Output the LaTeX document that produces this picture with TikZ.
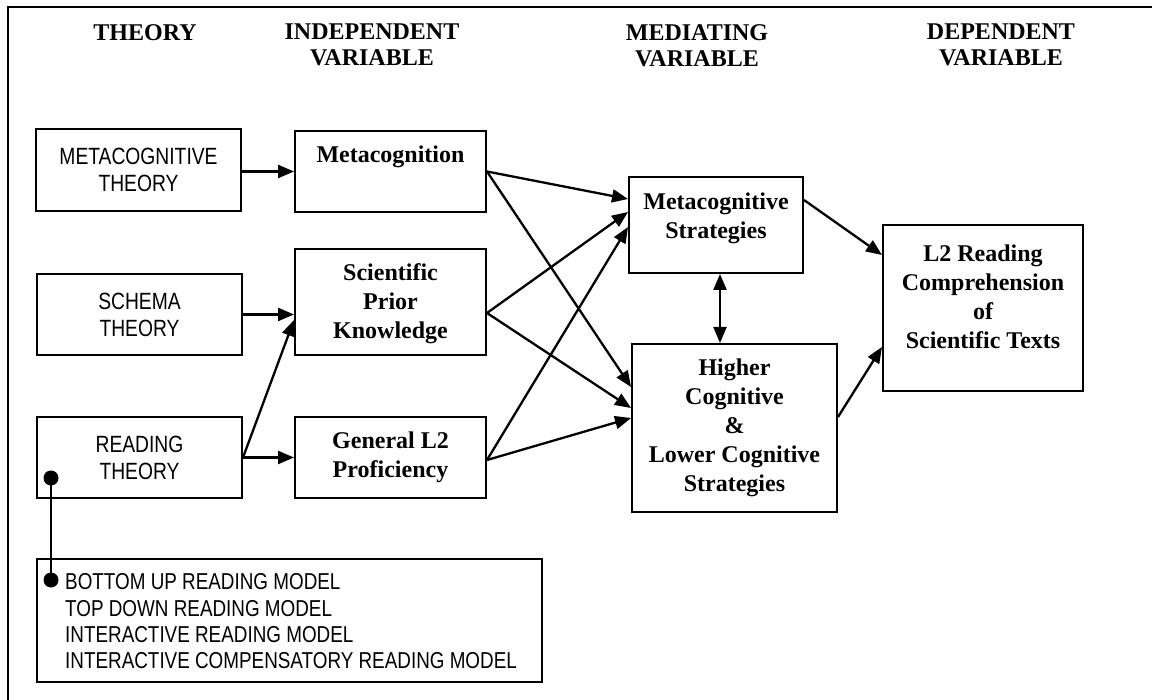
\documentclass[tikz,border=0pt]{standalone}
\usepackage{fontspec}
\setmainfont{Liberation Serif}
\newfontfamily\narrowsans[FakeStretch=0.82]{Liberation Sans}
\usetikzlibrary{arrows.meta,calc}
\begin{document}
\begin{tikzpicture}[x=1pt,y=-1pt,
  box/.style={draw, line width=2pt, inner sep=0pt, rectangle},
  hdr/.style={font=\bfseries\fontsize{24}{26}\selectfont, align=center, inner sep=0pt},
  btxt/.style={font=\bfseries\fontsize{24}{29}\selectfont, align=center, inner sep=0pt},
  stxt/.style={font=\narrowsans\fontsize{23.5}{27}\selectfont, align=center, inner sep=0pt},
  arr/.style={line width=2.3pt, -{Triangle[length=16pt,width=13pt]}},
  darr/.style={line width=2.3pt, {Triangle[length=16pt,width=13pt]}-{Triangle[length=16pt,width=13pt]}},
  dot/.style={circle, fill, inner sep=0pt, minimum size=15pt},
  frame/.style={line width=2pt}]
\useasboundingbox (0,0) rectangle (1152,700);
% frame
\coordinate (fbl) at (8,700);
\coordinate (ftl) at (8,7);
\coordinate (ftr) at (1152,7);
\draw[frame] (fbl) -- (ftl) -- (ftr);
% headers
\node[hdr, anchor=north] (h1) at (145,24) {THEORY};
\node[hdr, anchor=north] (h2) at (372,24) {INDEPENDENT\\VARIABLE};
\node[hdr, anchor=north] (h3) at (697,24) {MEDIATING\\VARIABLE};
\node[hdr, anchor=north] (h4) at (1001,24) {DEPENDENT\\VARIABLE};
% theory boxes
\node[box, stxt, minimum width=205pt, minimum height=82pt] (mt) at (138.5,170) {METACOGNITIVE\\THEORY};
\node[box, stxt, minimum width=205pt, minimum height=81pt] (st) at (139.5,314.5) {SCHEMA\\THEORY};
\node[box, stxt, minimum width=205pt, minimum height=81pt] (rt) at (139.5,457.5) {READING\\THEORY};
\node[box, minimum width=505pt, minimum height=123pt] (mod) at (289.5,620.5) {};
\node[stxt, font=\narrowsans\fontsize{23}{26.3}\selectfont, align=left, anchor=north west] (modt) at (65,573.5) {BOTTOM UP READING MODEL\\TOP DOWN READING MODEL\\INTERACTIVE READING MODEL\\INTERACTIVE COMPENSATORY READING MODEL};
% independent
\node[box, minimum width=191pt, minimum height=81pt] (mc) at (390.5,171.5) {};
\node[btxt] (mct) at (390.5,157) {Metacognition};
\node[box, minimum width=191pt, minimum height=106pt] (sp) at (390.5,302) {};
\node[btxt] (spt) at (390.5,304) {Scientific\\Prior\\Knowledge};
\node[box, btxt, minimum width=191pt, minimum height=81pt] (gp) at (390.5,457.5) {General L2\\Proficiency};
% mediating
\node[box, minimum width=174pt, minimum height=96pt] (ms) at (716,225) {};
\node[btxt] (mst) at (716,218) {Metacognitive\\Strategies};
\node[box, btxt, minimum width=205pt, minimum height=168pt] (hc) at (734.5,428) {Higher\\Cognitive\\\&\\Lower Cognitive\\Strategies};
% dependent
\node[box, minimum width=200pt, minimum height=166pt] (l2) at (983,308) {};
\node[btxt] (l2t) at (983,297) {L2 Reading\\Comprehension\\of\\Scientific Texts};
% dots
\node[dot] (d1) at (51,478) {};
\node[dot] (d2) at (51,580) {};
\draw[line width=2.3pt] (d1.center) -- (d2.center);
% arrows
\draw[arr] (mc.west -| mt.east) -- (mc.west);
\draw[arr] (st.east) -- (st.east -| sp.west);
\draw[arr] (rt.east) -- (rt.east -| gp.west);
\draw[arr] (rt.east) -- ([yshift=-18pt]sp.west);
\draw[arr] (mc.east) -- ([yshift=26pt]ms.west);
\draw[arr] (mc.east) -- ([yshift=41pt]hc.west);
\draw[arr] ([yshift=-11pt]sp.east) -- ([yshift=13pt]ms.west);
\draw[arr] ([yshift=-11pt]sp.east) -- ([yshift=20pt]hc.west);
\draw[arr] ([yshift=-2.5pt]gp.east) -- ([yshift=-2pt]ms.west);
\draw[arr] ([yshift=-2.5pt]gp.east) -- ([yshift=10pt]hc.west);
\draw[darr] ([xshift=4pt]ms.south) -- ([xshift=4pt]ms.south |- hc.north);
\draw[arr] ([yshift=25pt]ms.east) -- ([yshift=53pt]l2.west);
\draw[arr] ([yshift=11pt]hc.east) -- ([yshift=-39pt]l2.west);
\end{tikzpicture}
\end{document}
